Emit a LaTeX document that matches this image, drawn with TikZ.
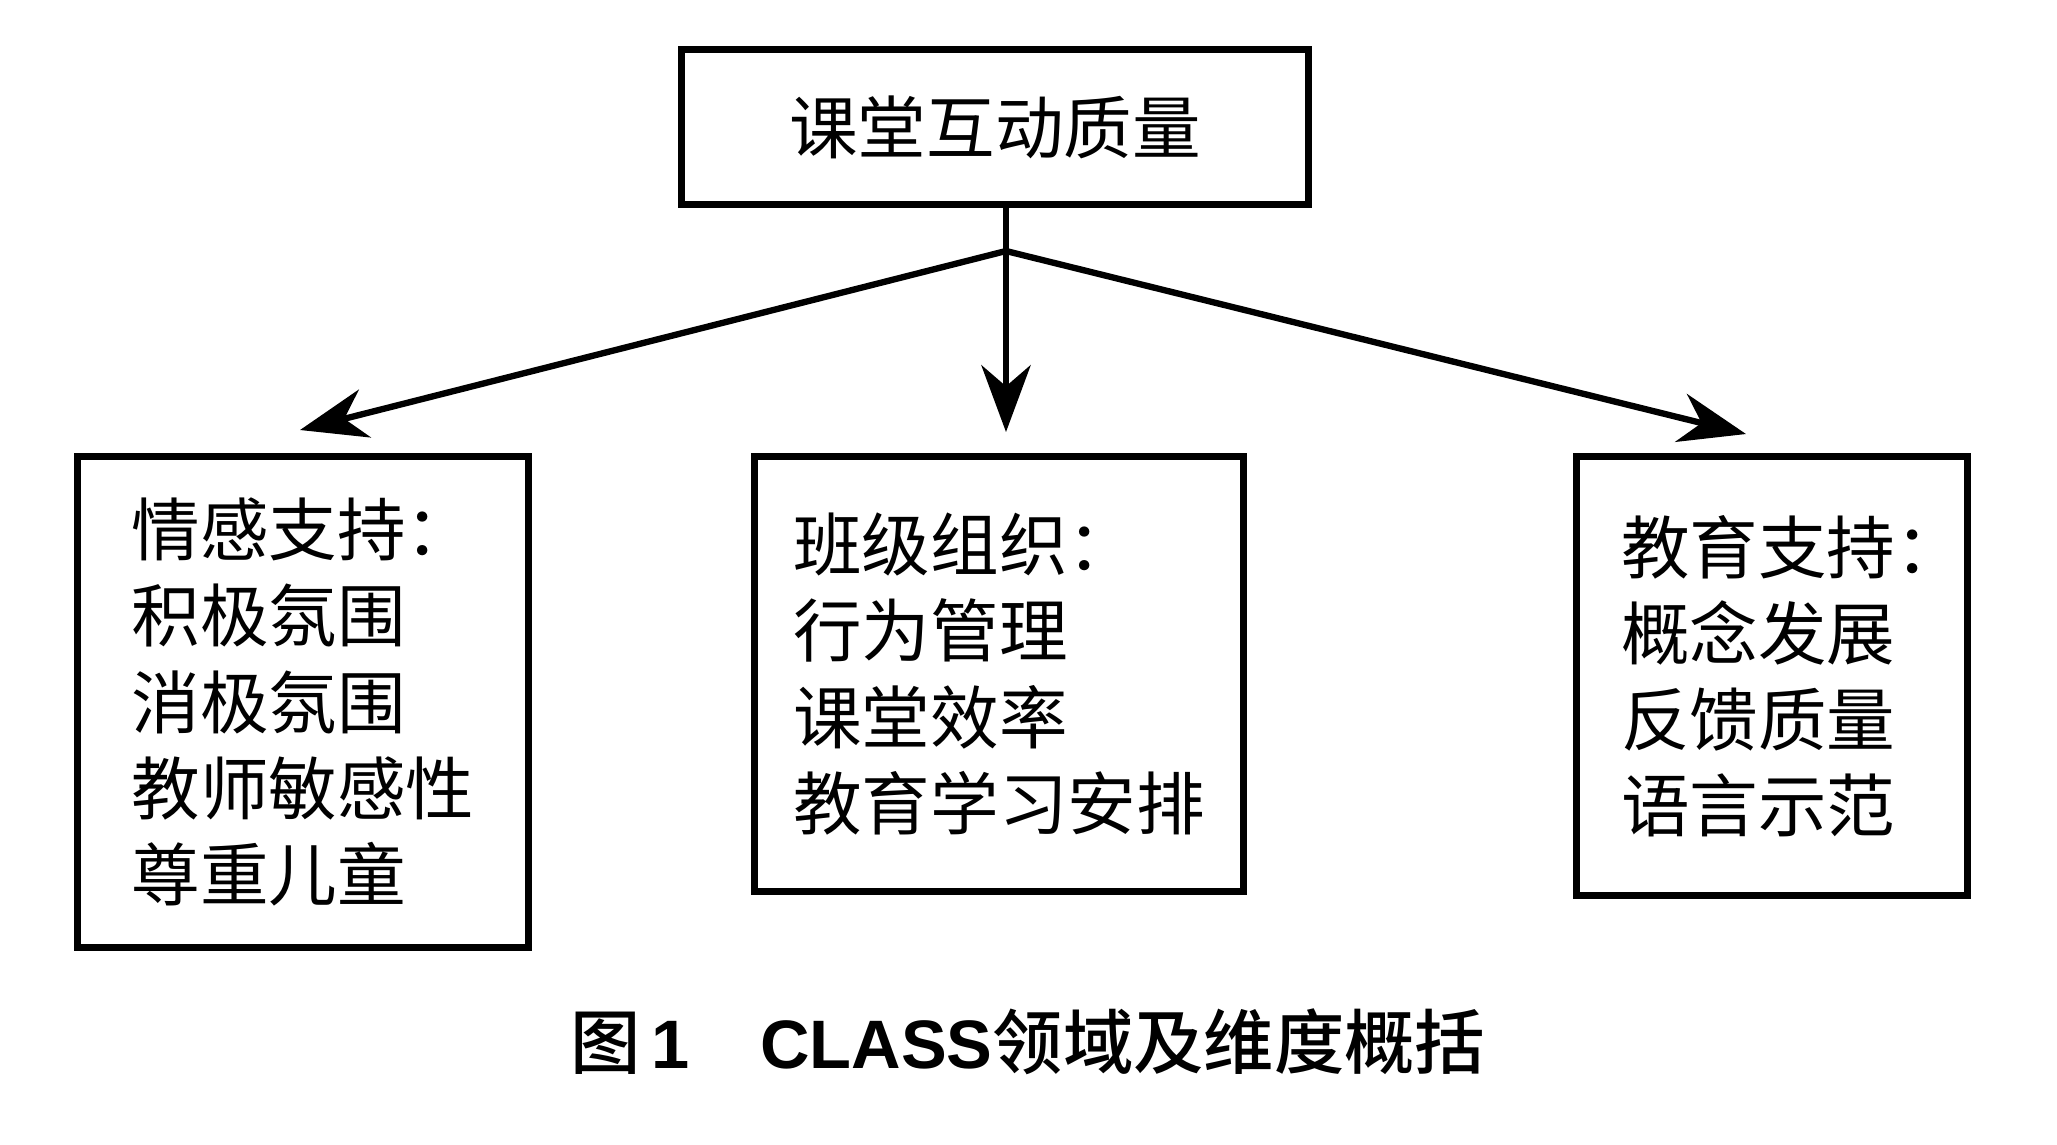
\documentclass[tikz,border=0pt]{standalone}
\usepackage{fontspec}
\newfontfamily\cjkfont{Noto Sans CJK SC}
\newfontfamily\heifont{Noto Sans CJK SC Medium}
\newfontfamily\latinfont{Liberation Sans}
\usetikzlibrary{positioning}
\usetikzlibrary{arrows.meta}

\newcommand\colonmark{\makebox[0.4em][l]{：}}

\tikzset{
  box/.style={draw, line width=2pt, inner sep=0pt, align=left, font=\cjkfont\fontsize{19.5}{24.5}\selectfont},
  link/.style={line width=1.8pt, line cap=round, -{Stealth[length=19pt, width=14pt, inset=6pt]}}
}

\begin{document}
\begin{tikzpicture}[x=0.01cm, y=-0.01cm]
  \useasboundingbox[fill=white] (0,0) rectangle (2057,1144);

  % top box
  \node[box, minimum width=6.27cm, minimum height=1.55cm] (quality) at (995,127) {课堂互动质量};

  % three domains
  \node[box, minimum width=4.51cm, minimum height=4.90cm] (emotional) at (303,702) {情感支持\colonmark\\积极氛围\\消极氛围\\教师敏感性\\尊重儿童};
  \node[box, minimum width=4.89cm, minimum height=4.34cm] (organization) at (999,674) {班级组织\colonmark\\行为管理\\课堂效率\\教育学习安排};
  \node[box, minimum width=3.91cm, minimum height=4.38cm] (instructional) at (1772,676) {教育支持\colonmark\\概念发展\\反馈质量\\语言示范};

  % arrows
  \coordinate (split) at (1006,251);
  \coordinate (lefttip) at (300,430);
  \coordinate (midtip) at (1006,432);
  \coordinate (righttip) at (1746,434);
  \draw[line width=1.8pt] (quality.south -| split) -- (split);
  \draw[link] (split) -- (lefttip);
  \draw[link] (split) -- (midtip);
  \draw[link] (split) -- (righttip);

  % caption
  \node[font=\heifont\fontsize{20}{24}\selectfont] (caption) at (1028,1042) {图\hspace{3pt}{\latinfont\bfseries\fontsize{19.5}{24}\selectfont 1}　{\latinfont\bfseries\fontsize{19.5}{24}\selectfont CLASS}领域及维度概括};
\end{tikzpicture}
\end{document}
